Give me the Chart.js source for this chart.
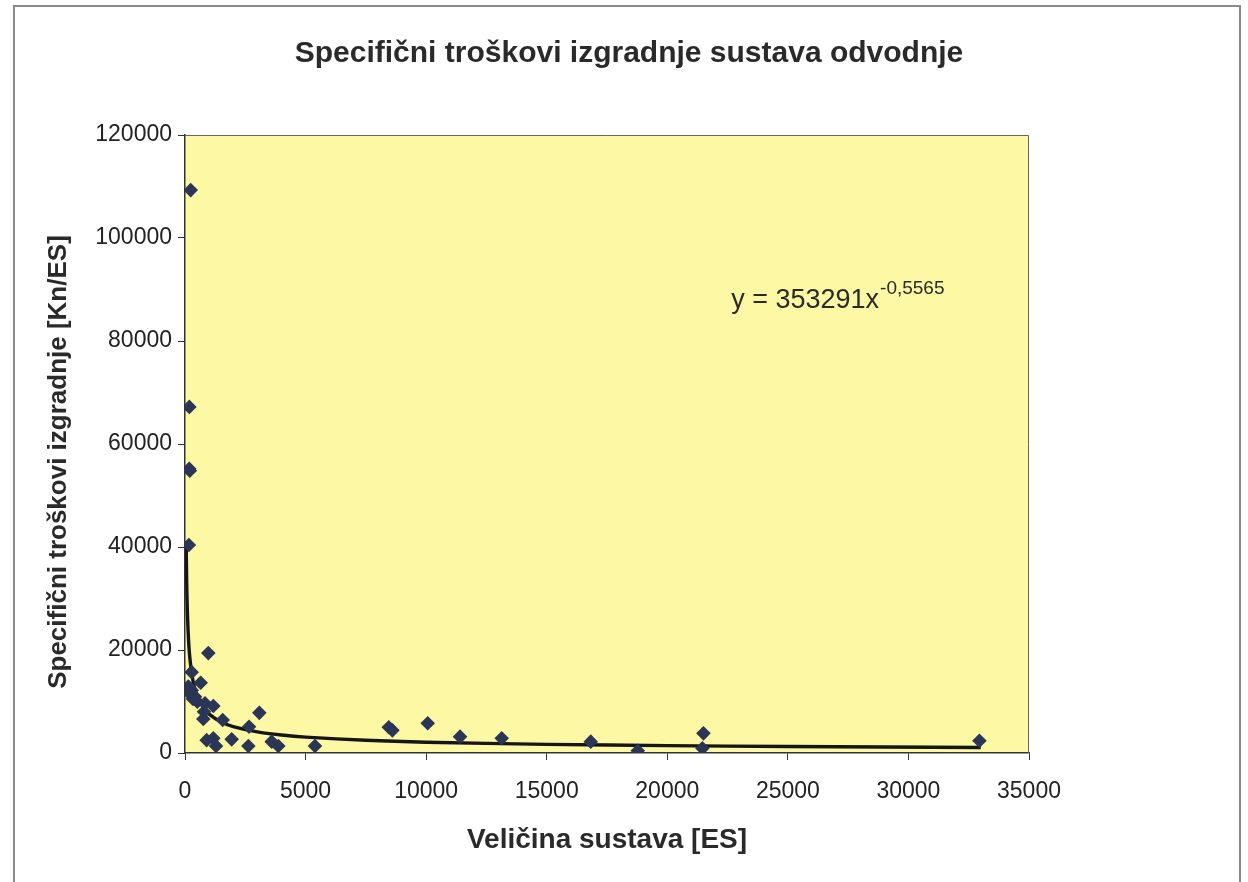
<!DOCTYPE html>
<html>
<head>
<meta charset="utf-8">
<script src="https://cdn.jsdelivr.net/npm/chart.js@4/dist/chart.umd.min.js"></script>
<style>
  html, body { margin: 0; padding: 0; background: #ffffff; }
  #wrap { position: relative; width: 1248px; height: 882px; }
  canvas { display: block; }
</style>
</head>
<body>
<div id="wrap"><canvas id="c" width="1248" height="882"></canvas></div>
<script>
// ---- Data ----
const titleText = 'Specifični troškovi izgradnje sustava odvodnje';
const xAxisTitle = 'Veličina sustava [ES]';
const yAxisTitle = 'Specifični troškovi izgradnje [Kn/ES]';
const equationMain = 'y = 353291x';
const equationExp = '-0,5565';

// System size [ES]
const sizeES = [
  236, 180, 175, 200, 160,
  967, 277, 650, 138, 277, 415, 512, 830, 1175, 788, 760, 1563, 3083, 2655,
  898, 1175, 1286, 1936, 2627, 3594, 3870, 5390,
  100, 220, 330,
  8450, 8600, 10065, 11406, 13134, 16826, 18776, 21500, 21456, 32945
];
// Specific construction cost [Kn/ES]
const costKnES = [
  109300, 67200, 55200, 54800, 40400,
  19400, 15700, 13650, 12900, 12200, 10900, 9950, 9650, 9130, 8000, 6600, 6400, 7800, 5100,
  2500, 2850, 1360, 2650, 1360, 2200, 1360, 1360,
  12000, 11500, 10500,
  5000, 4400, 5770, 3170, 2850, 2200, 450, 3820, 910, 2390
];

// Power trendline
const trendX = [49, 70, 100, 150, 200, 300, 400, 500, 750, 1000, 1500, 2000, 3000, 4000, 5000, 7500, 10000, 15000, 20000, 25000, 33000];
const trendY = [40500, 33200, 27200, 21700, 18500, 14800, 12600, 11100, 8870, 7560, 6030, 5140, 4100, 3500, 3090, 2470, 2100, 1680, 1430, 1260, 1080];

const xTicks = [0, 5000, 10000, 15000, 20000, 25000, 30000, 35000];
const yTicks = [0, 20000, 40000, 60000, 80000, 100000, 120000];

// ---- Chart ----
const FONT = "'Liberation Sans', Arial, sans-serif";

const decorPlugin = {
  id: 'decor',
  beforeDraw(chart) {
    const {ctx, chartArea: a} = chart;
    ctx.save();
    ctx.strokeStyle = '#8a8a8a';
    ctx.lineWidth = 2;
    ctx.strokeRect(14, 6, 1226, 900);
    ctx.fillStyle = '#fcf8a4';
    ctx.fillRect(a.left, a.top, a.right - a.left, a.bottom - a.top);
    ctx.restore();
  },
  afterDraw(chart) {
    const {ctx, chartArea: a, scales} = chart;
    ctx.save();
    ctx.strokeStyle = '#666';
    ctx.lineWidth = 1;
    ctx.beginPath();
    ctx.moveTo(a.left, a.top + 0.5);
    ctx.lineTo(a.right - 0.5, a.top + 0.5);
    ctx.lineTo(a.right - 0.5, a.bottom);
    ctx.stroke();
    // y axis title
    ctx.fillStyle = '#2a2a2a';
    ctx.font = 'bold 26px ' + FONT;
    ctx.textAlign = 'center';
    ctx.textBaseline = 'middle';
    ctx.translate(59, 462);
    ctx.rotate(-Math.PI / 2);
    ctx.fillText(yAxisTitle, 0, 0);
    ctx.restore();
    // trendline equation
    ctx.save();
    const ex = scales.x.getPixelForValue(22650);
    const ey = scales.y.getPixelForValue(86500);
    ctx.fillStyle = '#2a2a2a';
    ctx.textAlign = 'left';
    ctx.textBaseline = 'alphabetic';
    ctx.font = '27px ' + FONT;
    ctx.fillText(equationMain, ex, ey);
    const w = ctx.measureText(equationMain).width;
    ctx.font = '19px ' + FONT;
    ctx.fillText(equationExp, ex + w + 1, ey - 14);
    ctx.restore();
  }
};

new Chart(document.getElementById('c'), {
  type: 'scatter',
  data: {
    datasets: [
      {
        label: 'Trend',
        type: 'line',
        data: trendX.map((x, i) => ({x: x, y: trendY[i]})),
        borderColor: '#161616',
        borderWidth: 3.4,
        pointRadius: 0,
        tension: 0.3,
        fill: false,
        order: 2
      },
      {
        label: 'Podaci',
        data: sizeES.map((x, i) => ({x: x, y: costKnES[i]})),
        pointStyle: 'rectRot',
        pointRadius: 7.3,
        backgroundColor: '#2b3555',
        borderColor: '#2b3555',
        borderWidth: 0,
        order: 1
      }
    ]
  },
  options: {
    responsive: false,
    animation: false,
    devicePixelRatio: 1,
    layout: { padding: { left: 10, right: 0, top: 0, bottom: 0 } },
    plugins: {
      legend: { display: false },
      tooltip: { enabled: false },
      title: {
        display: true,
        text: titleText,
        color: '#2a2a2a',
        font: { family: FONT, size: 30, weight: 'bold', lineHeight: 1.2 },
        padding: { top: 36, bottom: 63 }
      }
    },
    scales: {
      x: {
        type: 'linear',
        min: 0,
        max: 35000,
        afterBuildTicks(scale) { scale.ticks = xTicks.map(v => ({value: v})); },
        afterFit(scale) { scale.height = 129; },
        ticks: {
          color: '#222',
          font: { family: FONT, size: 23 },
          padding: 18,
          maxRotation: 0,
          callback: v => String(v)
        },
        grid: { display: true, drawOnChartArea: false, tickLength: 7, color: '#333', lineWidth: 1 },
        border: { display: true, color: '#333', width: 1.5 },
        title: {
          display: true,
          text: xAxisTitle,
          color: '#2a2a2a',
          font: { family: FONT, size: 28, weight: 'bold', lineHeight: 1.2 },
          padding: { top: 0, bottom: 25 }
        }
      },
      y: {
        type: 'linear',
        min: 0,
        max: 120000,
        afterBuildTicks(scale) { scale.ticks = yTicks.map(v => ({value: v})); },
        afterFit(scale) { scale.width = 175; },
        ticks: {
          color: '#222',
          font: { family: FONT, size: 23 },
          padding: 6,
          callback: v => String(v)
        },
        grid: { display: true, drawOnChartArea: false, tickLength: 7, color: '#333', lineWidth: 1 },
        border: { display: true, color: '#333', width: 1.5 }
      },
      yRight: {
        type: 'linear',
        position: 'right',
        min: 0,
        max: 1,
        display: true,
        afterFit(scale) { scale.width = 219; },
        ticks: { display: false },
        grid: { display: false },
        border: { display: false }
      }
    }
  },
  plugins: [decorPlugin]
});
</script>
</body>
</html>
